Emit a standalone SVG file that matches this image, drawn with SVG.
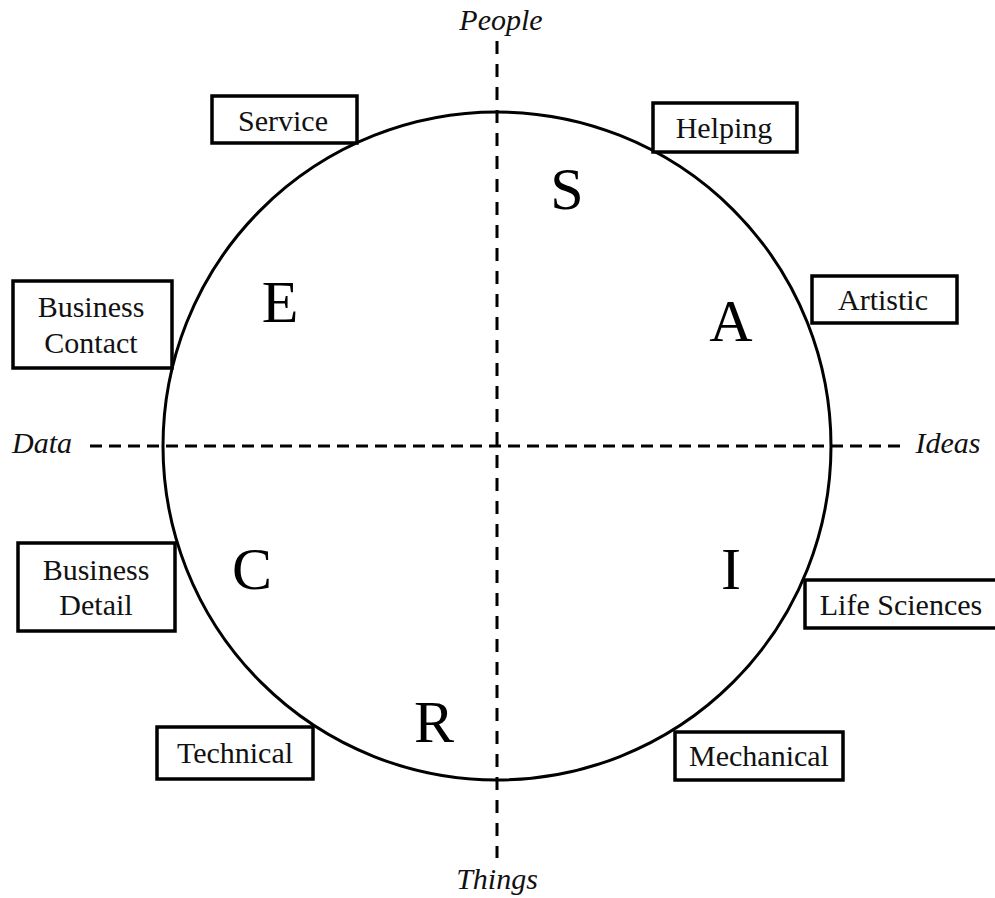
<svg xmlns="http://www.w3.org/2000/svg" width="995" height="898" viewBox="0 0 995 898">
<style>
.box{fill:#fff;stroke:#000;stroke-width:3.5}
.lbl{font-family:"Liberation Serif",serif;font-size:30px;fill:#111;text-anchor:middle}
.big{font-family:"Liberation Serif",serif;font-size:60px;fill:#000;text-anchor:middle}
.axis{font-family:"Liberation Serif",serif;font-size:30px;font-style:italic;fill:#111;text-anchor:middle}
.dash{stroke:#000;stroke-width:3;fill:none}
</style>
<rect width="995" height="898" fill="#fff"/>
<g id="connectors">
<line class="dash" x1="497" y1="41" x2="497" y2="858" stroke-dasharray="13 10"/>
<line class="dash" x1="90" y1="446" x2="906" y2="446" stroke-dasharray="12 7"/>
</g>
<g id="circle"><circle cx="497" cy="446" r="334" fill="none" stroke="#000" stroke-width="3"/></g>
<g id="axes">
<text class="axis" x="501" y="30">People</text>
<text class="axis" x="42" y="453">Data</text>
<text class="axis" x="948" y="453">Ideas</text>
<text class="axis" x="497" y="889">Things</text>
</g>
<g id="letters">
<text class="big" x="567" y="209">S</text>
<text class="big" x="280" y="322">E</text>
<text class="big" x="731" y="341">A</text>
<text class="big" x="252" y="589">C</text>
<text class="big" x="731" y="589">I</text>
<text class="big" x="434" y="742">R</text>
</g>
<g id="service"><rect class="box" x="212" y="96" width="145" height="47"/><text class="lbl" x="283" y="131">Service</text></g>
<g id="helping"><rect class="box" x="653" y="103" width="144" height="49"/><text class="lbl" x="724" y="138">Helping</text></g>
<g id="business-contact"><rect class="box" x="13" y="281" width="159" height="87"/><text class="lbl" x="91" y="317">Business</text><text class="lbl" x="91" y="353">Contact</text></g>
<g id="artistic"><rect class="box" x="812" y="276" width="145" height="47"/><text class="lbl" x="883" y="310">Artistic</text></g>
<g id="business-detail"><rect class="box" x="18" y="543" width="157" height="88"/><text class="lbl" x="96" y="580">Business</text><text class="lbl" x="96" y="615">Detail</text></g>
<g id="life-sciences"><rect class="box" x="805" y="580" width="193" height="48"/><text class="lbl" x="901" y="615">Life Sciences</text></g>
<g id="technical"><rect class="box" x="157" y="727" width="156" height="52"/><text class="lbl" x="235" y="763">Technical</text></g>
<g id="mechanical"><rect class="box" x="675" y="732" width="168" height="48"/><text class="lbl" x="759" y="766">Mechanical</text></g>
</svg>
